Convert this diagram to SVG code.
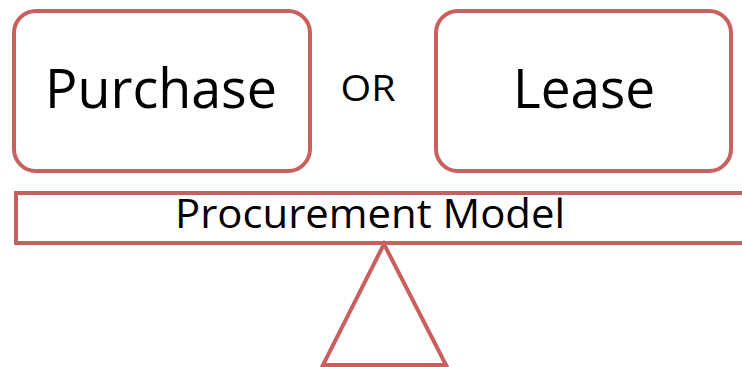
<svg xmlns="http://www.w3.org/2000/svg" width="742" height="367" viewBox="0 0 742 367">
  <style>
    .frame { fill: #ffffff; stroke: #C95F5F; stroke-width: 4; }
    .label { font-family: "Open Sans", "Noto Sans", "Liberation Sans", sans-serif; fill: #000000; text-anchor: middle; }
  </style>
  <rect width="742" height="367" fill="#ffffff"/>

  <g id="purchase">
    <rect class="frame" x="14" y="11" width="296" height="160" rx="22" ry="22"/>
    <text class="label" x="161" y="108" font-size="54" textLength="232" lengthAdjust="spacingAndGlyphs">Purchase</text>
  </g>

  <g id="or">
    <text class="label" x="368" y="101" font-size="36" textLength="55" lengthAdjust="spacingAndGlyphs">OR</text>
  </g>

  <g id="lease">
    <rect class="frame" x="436" y="11" width="295" height="160" rx="22" ry="22"/>
    <text class="label" x="584" y="108" font-size="54" textLength="142" lengthAdjust="spacingAndGlyphs">Lease</text>
  </g>

  <g id="procurement-model">
    <rect class="frame" x="16" y="193" width="740" height="50"/>
    <text class="label" x="370" y="228" font-size="40" textLength="390" lengthAdjust="spacingAndGlyphs">Procurement Model</text>
  </g>

  <g id="fulcrum">
    <polygon class="frame" points="384,244 323,365 446,365"/>
  </g>
</svg>
